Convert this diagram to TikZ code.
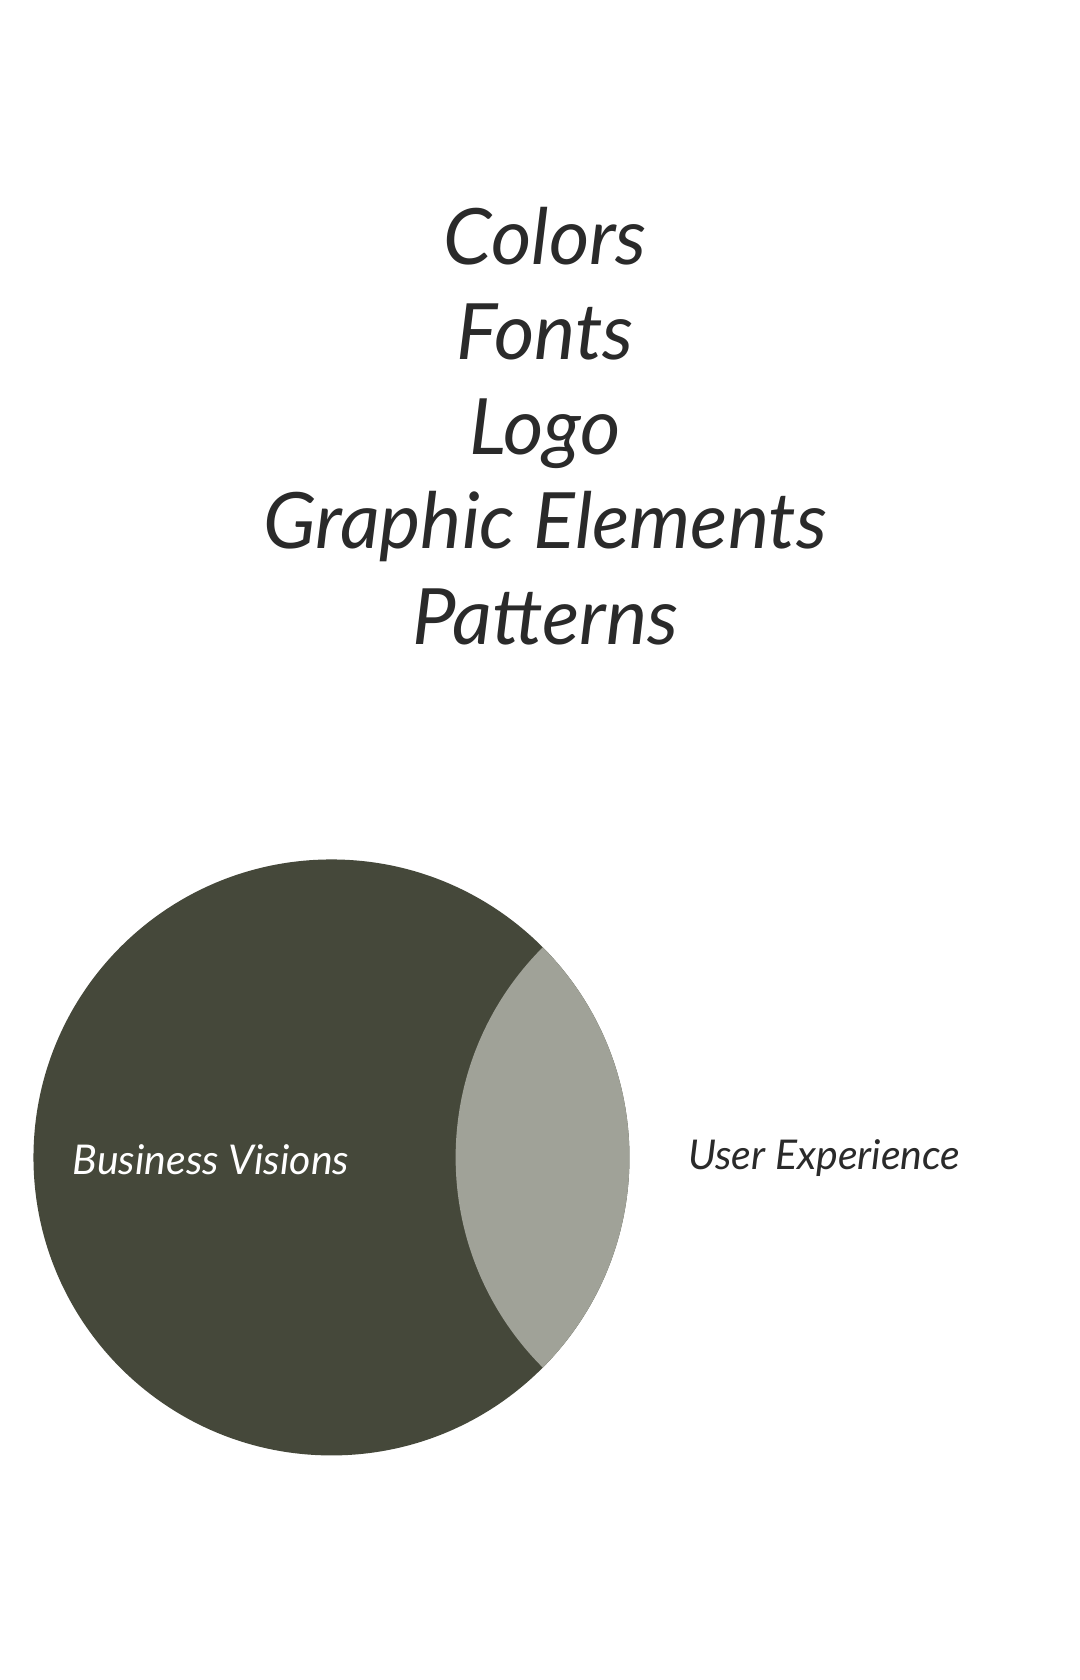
\documentclass[tikz,border=0pt]{standalone}
\usepackage{fontspec}
\setmainfont{Lato}
\definecolor{dark}{HTML}{45483A}
\definecolor{lens}{HTML}{A0A298}
\definecolor{ink}{HTML}{2A2A2A}
\begin{document}
\begin{tikzpicture}[x=1pt,y=-1pt,
  title/.style={font=\fontsize{72}{72}\selectfont\itshape, text=ink, anchor=base},
  lab/.style={font=\fontsize{38}{38}\selectfont\itshape, anchor=base west}]
\useasboundingbox[fill=white] (0,0) rectangle (1000,1556);
\node[title] (t1) at (505,245) {Colors};
\node[title] (t2) at (505,333) {Fonts};
\node[title] (t3) at (505,421) {Logo};
\node[title] (t4) at (505,508) {Graphic Elements};
\node[title] (t5) at (505,597) {Patterns};
\fill[dark] (307,1072) circle (276);
\begin{scope}
\clip (307,1072) circle (276);
\fill[lens] (697,1072) circle (275);
\end{scope}
\node[lab, text=white] (bv) at (64,1088) {Business Visions};
\node[lab, text=ink] (ux) at (634,1083) {User Experience};
\end{tikzpicture}
\end{document}
